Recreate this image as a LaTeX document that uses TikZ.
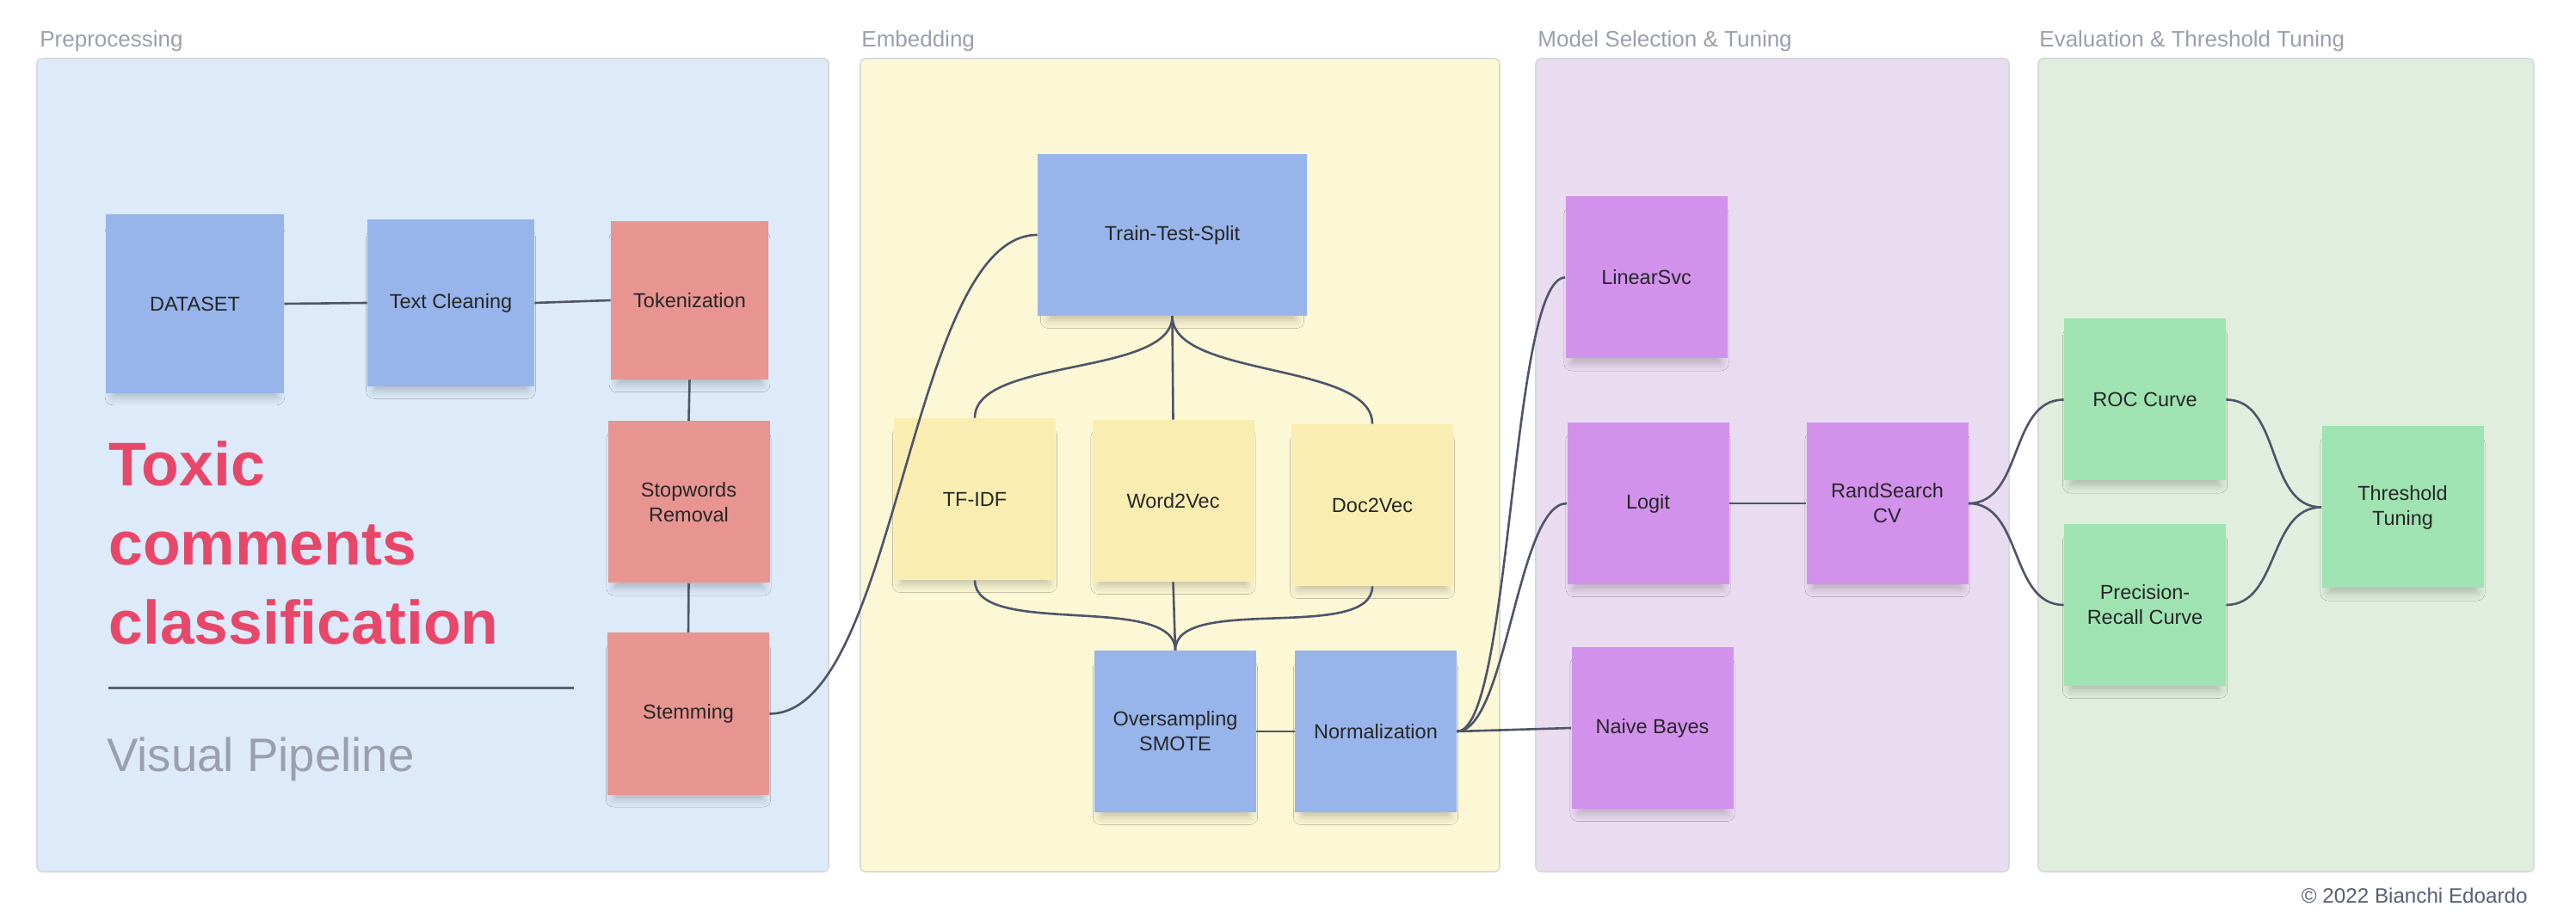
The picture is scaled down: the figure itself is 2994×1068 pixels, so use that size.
\documentclass[tikz,border=0pt]{standalone}
\usepackage{fontspec}
\setmainfont{Liberation Sans}
\usetikzlibrary{shadows.blur}

\definecolor{prebg}{HTML}{DCEAF9}
\definecolor{embbg}{HTML}{FCF8D5}
\definecolor{modbg}{HTML}{E9DBF0}
\definecolor{evalbg}{HTML}{DFEEDD}
\definecolor{cblue}{HTML}{97B5EA}
\definecolor{cred}{HTML}{E89591}
\definecolor{cyellow}{HTML}{FAEDB2}
\definecolor{cpurple}{HTML}{D292EC}
\definecolor{cgreen}{HTML}{9FE3B2}
\definecolor{toxicred}{HTML}{E8476A}
\definecolor{wirec}{HTML}{4F5469}
\definecolor{titlec}{HTML}{9B9FAD}
\definecolor{framec}{HTML}{D6D9DD}
\definecolor{signc}{HTML}{595F74}

\tikzset{
  panel/.style={rounded corners=3pt,draw=framec,line width=0.8pt},
  paneltitle/.style={anchor=base west,inner sep=0pt,text=titlec,font=\fontsize{13}{15}\selectfont},
  card/.style={rectangle,minimum width=94pt,minimum height=94pt,inner sep=2pt,align=center,
    text=black!85,font=\fontsize{11.75}{14.5}\selectfont,
    blur shadow={shadow xshift=0pt,shadow yshift=-7pt,shadow scale=0.92,
      shadow blur radius=5pt,shadow opacity=22}},
  wire/.style={draw=wirec,line width=1.3pt},
}

\begin{document}
\begin{tikzpicture}[x=0.5pt,y=-0.5pt]
  %\draw (0,0) grid (2994,1068);
\useasboundingbox (0,0) rectangle (2994,1068);
\fill[white] (0,0) rectangle (2994,1068);

% the four stages
\draw[panel,fill=prebg] (43,68) rectangle (963,1013);
\draw[panel,fill=embbg] (1000,68) rectangle (1743,1013);
\draw[panel,fill=modbg] (1785,68) rectangle (2335,1013);
\draw[panel,fill=evalbg] (2369,68) rectangle (2945,1013);
\node[paneltitle] (pretitle) at (46,55) {Preprocessing};
\node[paneltitle] (embtitle) at (1001,55) {Embedding};
\node[paneltitle] (modtitle) at (1787,55) {Model Selection \& Tuning};
\node[paneltitle] (evaltitle) at (2370,55) {Evaluation \& Threshold Tuning};

% headline
\node[anchor=north west,inner sep=0pt,align=left,text=toxicred,
  font=\bfseries\fontsize{35.75}{46}\selectfont]
  (headline) at (126,512) {Toxic\\comments\\classification};
\draw[line width=1.5pt,draw=signc] (126,800) -- (667,800);
\node[anchor=base west,inner sep=0pt,text=titlec,font=\fontsize{27.3}{32}\selectfont]
  (subtitle) at (124,897) {Visual Pipeline};

% preprocessing
\node[card,fill=cblue,minimum width=103.5pt,minimum height=104pt] (dataset)
  at (226.5,353) {DATASET};
\node[card,fill=cblue,minimum size=97pt] (cleaning) at (524,352) {Text Cleaning};
\node[card,fill=cred,minimum width=91.5pt,minimum height=92pt] (tokens)
  at (801.5,349) {Tokenization};
\node[card,fill=cred] (stopwords) at (800.5,583.5) {Stopwords\\Removal};
\node[card,fill=cred] (stemming) at (800,829.5) {Stemming};

% embedding
\node[card,fill=cblue,minimum width=156.5pt] (split) at (1362.5,273) {Train-Test-Split};
\node[card,fill=cyellow] (tfidf) at (1133,580) {TF-IDF};
\node[card,fill=cyellow] (wordvec) at (1363.5,582) {Word2Vec};
\node[card,fill=cyellow] (docvec) at (1595,587) {Doc2Vec};
\node[card,fill=cblue] (smote) at (1366,850) {Oversampling\\SMOTE};
\node[card,fill=cblue] (norm) at (1599,850) {Normalization};

% models
\node[card,fill=cpurple] (svc) at (1913.5,322.5) {LinearSvc};
\node[card,fill=cpurple] (logit) at (1915.5,585) {Logit};
\node[card,fill=cpurple] (bayes) at (1920.5,846) {Naive Bayes};
\node[card,fill=cpurple] (search) at (2193.5,585) {RandSearch\\CV};

% evaluation
\node[card,fill=cgreen] (roc) at (2493,464.5) {ROC Curve};
\node[card,fill=cgreen] (prc) at (2493,703) {Precision-\\Recall Curve};
\node[card,fill=cgreen] (threshold) at (2792.5,589.5) {Threshold\\Tuning};

% links
\draw[wire] (dataset.east) -- (cleaning.west);
\draw[wire] (cleaning.east) -- (tokens.west);
\draw[wire] (tokens.south) -- (stopwords.north);
\draw[wire] (stopwords.south) -- (stemming.north);
\draw[wire] (stemming.east) to[out=0,in=180,looseness=0.6] (split.west);
\draw[wire] (split.south) to[out=-90,in=90,looseness=0.7] (tfidf.north);
\draw[wire] (split.south) -- (wordvec.north);
\draw[wire] (split.south) to[out=-90,in=90,looseness=0.7] (docvec.north);
\draw[wire] (tfidf.south) to[out=-90,in=90,looseness=0.7] (smote.north);
\draw[wire] (wordvec.south) -- (smote.north);
\draw[wire] (docvec.south) to[out=-90,in=90,looseness=0.7] (smote.north);
\draw[wire] (smote.east) -- (norm.west);
\draw[wire] (norm.east) to[out=0,in=180,looseness=0.3] (svc.west);
\draw[wire] (norm.east) to[out=0,in=180,looseness=0.5] (logit.west);
\draw[wire] (norm.east) -- (bayes.west);
\draw[wire] (logit.east) -- (search.west);
\draw[wire] (search.east) to[out=0,in=180] (roc.west);
\draw[wire] (search.east) to[out=0,in=180] (prc.west);
\draw[wire] (roc.east) to[out=0,in=180] (threshold.west);
\draw[wire] (prc.east) to[out=0,in=180] (threshold.west);

\node[anchor=base east,inner sep=0pt,text=signc,font=\fontsize{12.1}{14}\selectfont]
  (signature) at (2938,1049) {© 2022 Bianchi Edoardo};
\end{tikzpicture}
\end{document}
